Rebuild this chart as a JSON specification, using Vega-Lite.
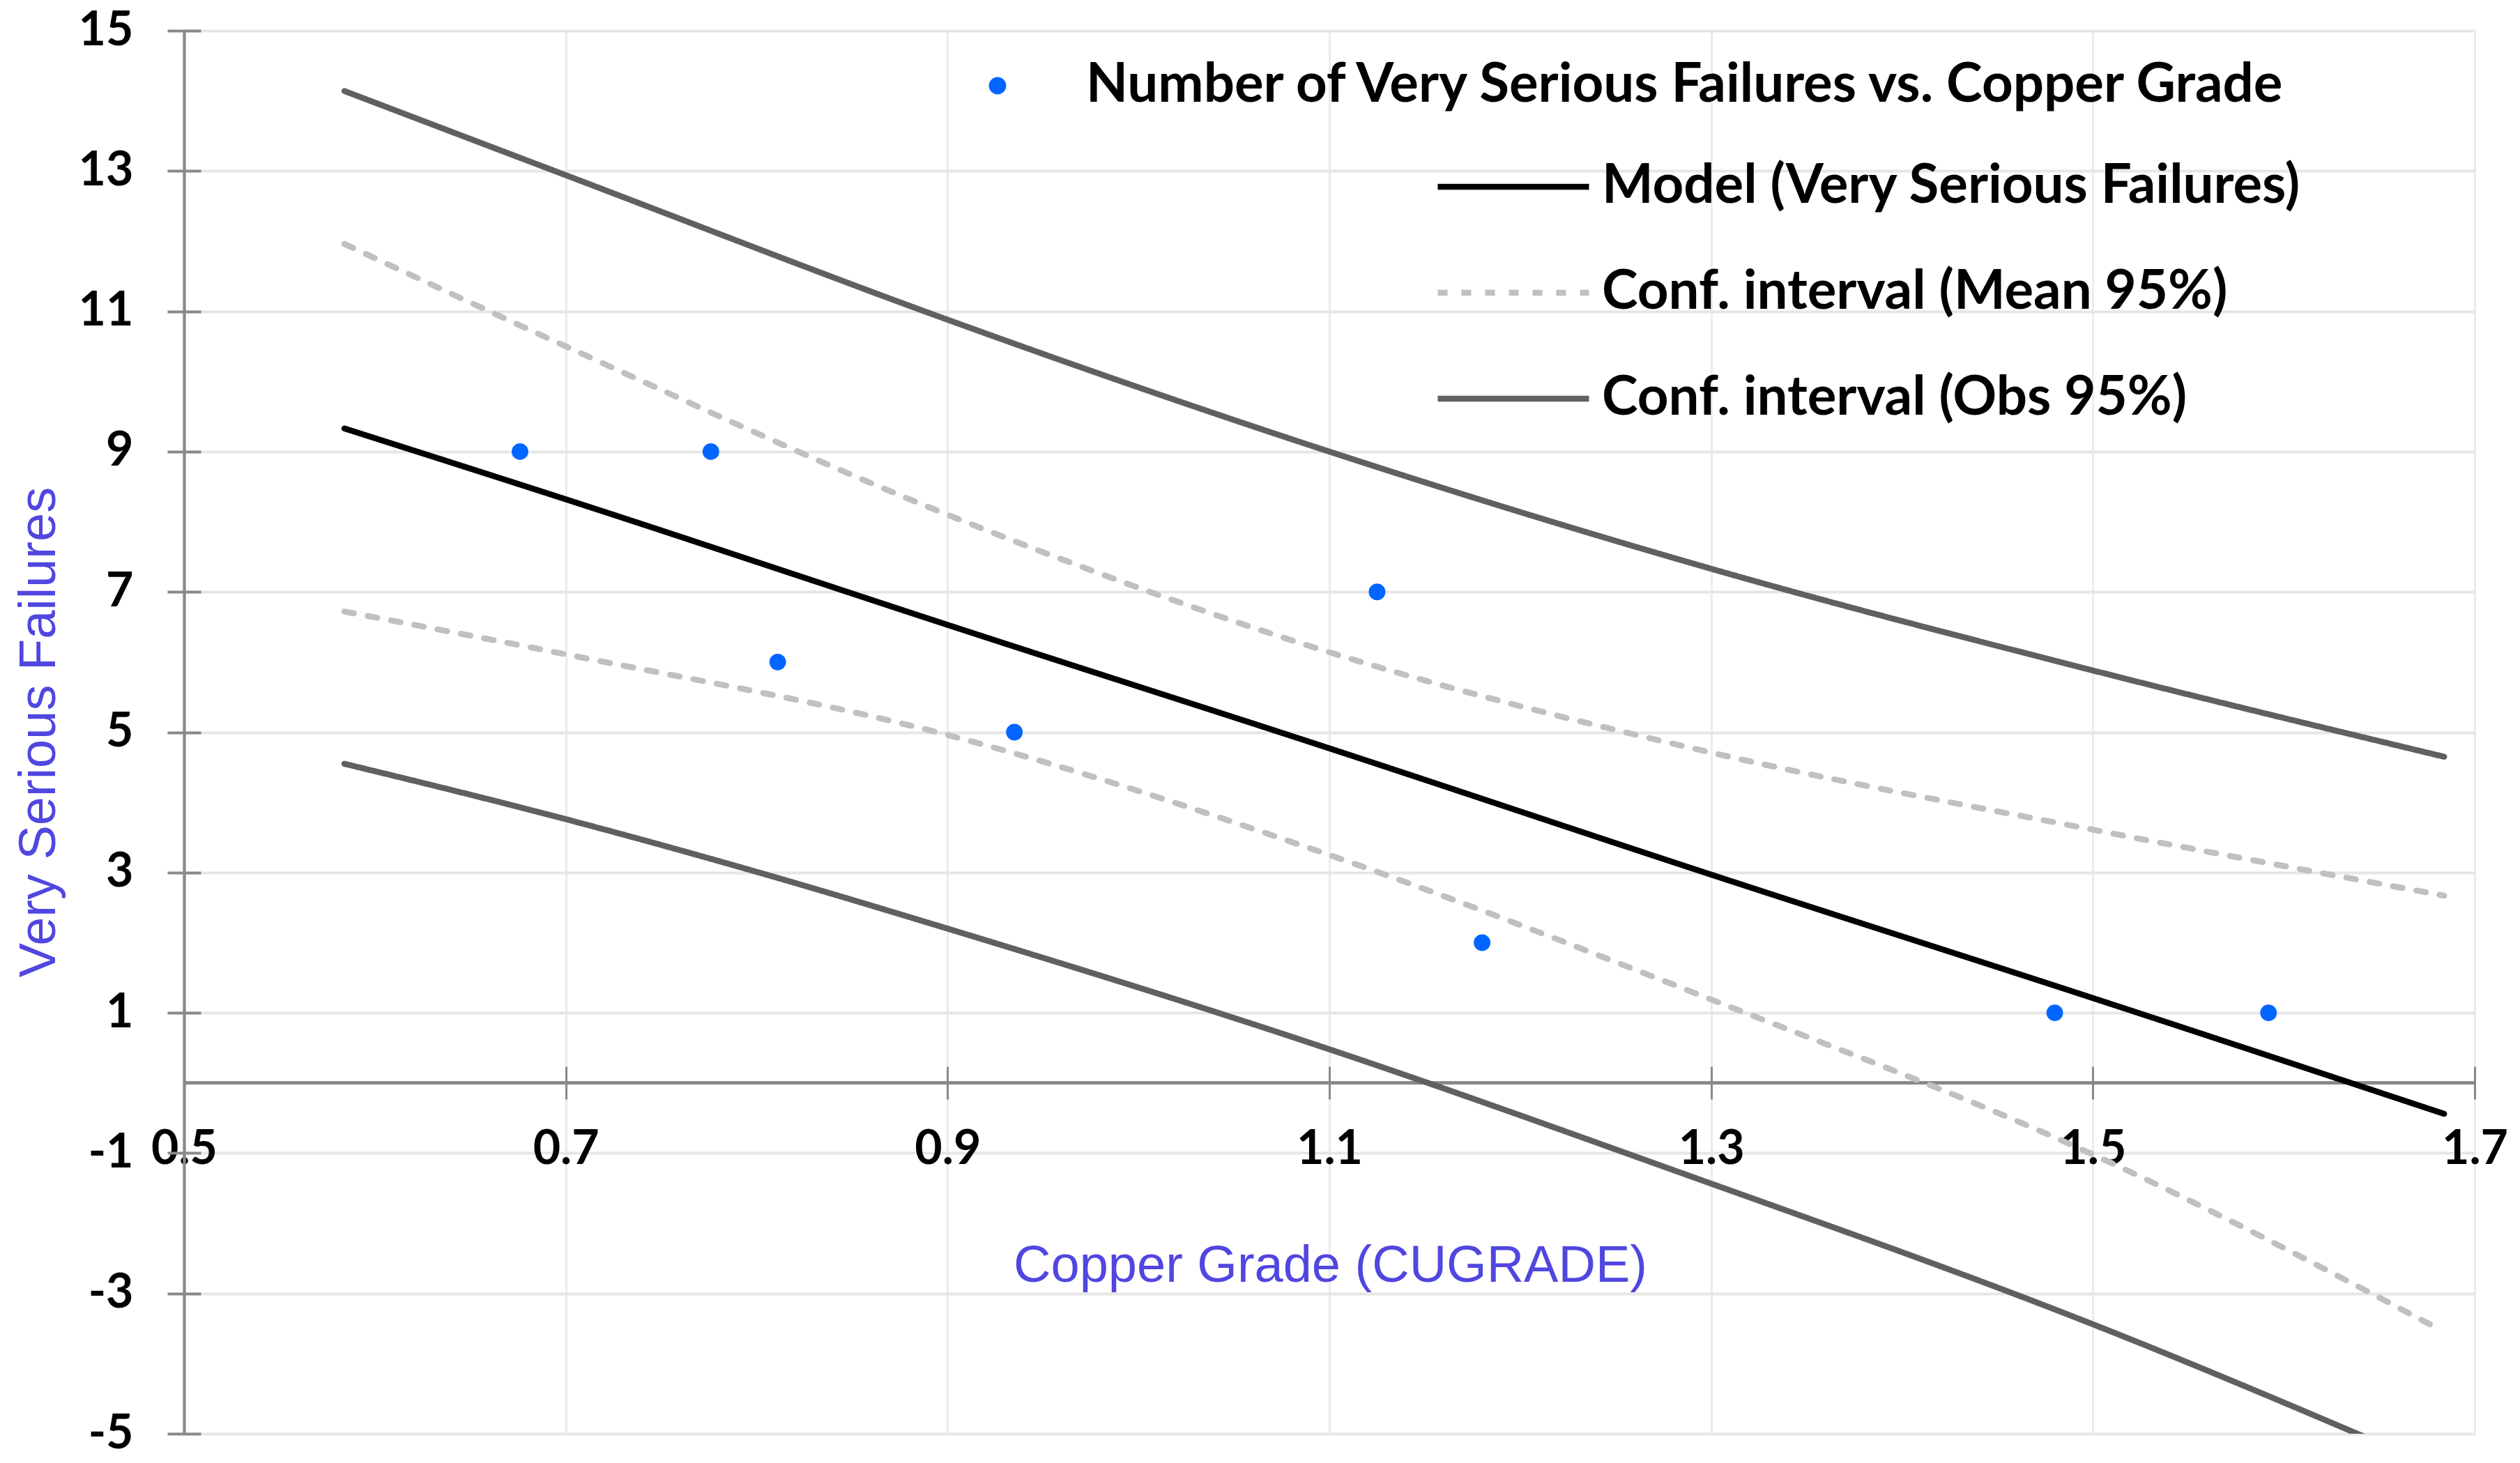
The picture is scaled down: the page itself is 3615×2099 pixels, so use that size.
{
  "$schema": "https://vega.github.io/schema/vega-lite/v6.json",
  "width": 3286,
  "height": 2013,
  "autosize": {"type": "none"},
  "padding": {"left": 264, "top": 44, "right": 65, "bottom": 42},
  "background": "white",
  "config": {"view": {"stroke": null}},
  "datasets": {
    "points": [
      {"label": "Number of Very Serious Failures vs. Copper Grade", "cugrade": 0.676, "failures": 9},
      {"label": "Number of Very Serious Failures vs. Copper Grade", "cugrade": 0.776, "failures": 9},
      {"label": "Number of Very Serious Failures vs. Copper Grade", "cugrade": 0.811, "failures": 6},
      {"label": "Number of Very Serious Failures vs. Copper Grade", "cugrade": 0.935, "failures": 5},
      {"label": "Number of Very Serious Failures vs. Copper Grade", "cugrade": 1.125, "failures": 7},
      {"label": "Number of Very Serious Failures vs. Copper Grade", "cugrade": 1.18, "failures": 2},
      {"label": "Number of Very Serious Failures vs. Copper Grade", "cugrade": 1.48, "failures": 1},
      {"label": "Number of Very Serious Failures vs. Copper Grade", "cugrade": 1.592, "failures": 1}
    ],
    "curves": [
      {"series": "Model (Very Serious Failures)", "bound": "fit", "cugrade": 0.584, "failures": 9.33},
      {"series": "Model (Very Serious Failures)", "bound": "fit", "cugrade": 0.7, "failures": 8.32},
      {"series": "Model (Very Serious Failures)", "bound": "fit", "cugrade": 0.9, "failures": 6.53},
      {"series": "Model (Very Serious Failures)", "bound": "fit", "cugrade": 1.1, "failures": 4.77},
      {"series": "Model (Very Serious Failures)", "bound": "fit", "cugrade": 1.3, "failures": 2.97},
      {"series": "Model (Very Serious Failures)", "bound": "fit", "cugrade": 1.5, "failures": 1.21},
      {"series": "Model (Very Serious Failures)", "bound": "fit", "cugrade": 1.684, "failures": -0.44},

      {"series": "Conf. interval (Mean 95%)", "bound": "upper", "cugrade": 0.584, "failures": 11.96},
      {"series": "Conf. interval (Mean 95%)", "bound": "upper", "cugrade": 0.7, "failures": 10.5},
      {"series": "Conf. interval (Mean 95%)", "bound": "upper", "cugrade": 0.9, "failures": 8.1},
      {"series": "Conf. interval (Mean 95%)", "bound": "upper", "cugrade": 1.1, "failures": 6.14},
      {"series": "Conf. interval (Mean 95%)", "bound": "upper", "cugrade": 1.3, "failures": 4.71},
      {"series": "Conf. interval (Mean 95%)", "bound": "upper", "cugrade": 1.5, "failures": 3.61},
      {"series": "Conf. interval (Mean 95%)", "bound": "upper", "cugrade": 1.684, "failures": 2.67},

      {"series": "Conf. interval (Mean 95%)", "bound": "lower", "cugrade": 0.584, "failures": 6.72},
      {"series": "Conf. interval (Mean 95%)", "bound": "lower", "cugrade": 0.7, "failures": 6.11},
      {"series": "Conf. interval (Mean 95%)", "bound": "lower", "cugrade": 0.9, "failures": 4.96},
      {"series": "Conf. interval (Mean 95%)", "bound": "lower", "cugrade": 1.1, "failures": 3.25},
      {"series": "Conf. interval (Mean 95%)", "bound": "lower", "cugrade": 1.3, "failures": 1.19},
      {"series": "Conf. interval (Mean 95%)", "bound": "lower", "cugrade": 1.5, "failures": -1.02},
      {"series": "Conf. interval (Mean 95%)", "bound": "lower", "cugrade": 1.68, "failures": -3.49},

      {"series": "Conf. interval (Obs 95%)", "bound": "upper", "cugrade": 0.584, "failures": 14.14},
      {"series": "Conf. interval (Obs 95%)", "bound": "upper", "cugrade": 0.7, "failures": 12.94},
      {"series": "Conf. interval (Obs 95%)", "bound": "upper", "cugrade": 0.9, "failures": 10.88},
      {"series": "Conf. interval (Obs 95%)", "bound": "upper", "cugrade": 1.1, "failures": 9.0},
      {"series": "Conf. interval (Obs 95%)", "bound": "upper", "cugrade": 1.3, "failures": 7.33},
      {"series": "Conf. interval (Obs 95%)", "bound": "upper", "cugrade": 1.5, "failures": 5.88},
      {"series": "Conf. interval (Obs 95%)", "bound": "upper", "cugrade": 1.684, "failures": 4.65},

      {"series": "Conf. interval (Obs 95%)", "bound": "lower", "cugrade": 0.584, "failures": 4.55},
      {"series": "Conf. interval (Obs 95%)", "bound": "lower", "cugrade": 0.7, "failures": 3.76},
      {"series": "Conf. interval (Obs 95%)", "bound": "lower", "cugrade": 0.805, "failures": 2.97},
      {"series": "Conf. interval (Obs 95%)", "bound": "lower", "cugrade": 0.9, "failures": 2.2},
      {"series": "Conf. interval (Obs 95%)", "bound": "lower", "cugrade": 1.1, "failures": 0.48},
      {"series": "Conf. interval (Obs 95%)", "bound": "lower", "cugrade": 1.28, "failures": -1.24},
      {"series": "Conf. interval (Obs 95%)", "bound": "lower", "cugrade": 1.5, "failures": -3.44},
      {"series": "Conf. interval (Obs 95%)", "bound": "lower", "cugrade": 1.684, "failures": -5.53}
    ]
  },
  "layer": [
    {
      "data": {"name": "points"},
      "mark": {"type": "rule", "color": "#898989", "strokeWidth": 4},
      "encoding": {
        "y": {"datum": 0, "type": "quantitative", "scale": {"domain": [-5, 15], "nice": false, "zero": false}, "axis": null}
      }
    },
    {
      "data": {"name": "curves"},
      "mark": {"type": "line", "clip": true, "interpolate": "monotone", "strokeCap": "round", "strokeWidth": 8.5},
      "encoding": {
        "x": {
          "field": "cugrade", "type": "quantitative",
          "scale": {"domain": [0.5, 1.7], "nice": false, "zero": false},
          "axis": {
            "orient": "bottom", "values": [0.5, 0.7, 0.9, 1.1, 1.3, 1.5, 1.7],
            "grid": true, "gridColor": "#ebebeb", "gridWidth": 3,
            "domain": false, "ticks": false, "labels": false, "title": null
          }
        },
        "y": {
          "field": "failures", "type": "quantitative",
          "scale": {"domain": [-5, 15], "nice": false, "zero": false},
          "axis": {
            "orient": "left", "values": [-5, -3, -1, 1, 3, 5, 7, 9, 11, 13, 15],
            "grid": true, "gridColor": "#e6e6e6", "gridWidth": 4,
            "domain": true, "domainColor": "#898989", "domainWidth": 4.3,
            "ticks": false, "labels": false, "title": null
          }
        },
        "stroke": {
          "field": "series", "type": "nominal",
          "scale": {
            "domain": ["Model (Very Serious Failures)", "Conf. interval (Mean 95%)", "Conf. interval (Obs 95%)"],
            "range": ["#000000", "#c0c0c0", "#606060"]
          },
          "legend": {
            "orient": "none", "legendX": 1794, "legendY": 111, "direction": "vertical",
            "title": null, "padding": 0, "symbolType": "stroke", "symbolSize": 47089, "symbolStrokeWidth": 8.5,
            "rowPadding": -76, "labelOffset": 14, "labelLimit": 3000,
            "labelFont": "Lato", "labelFontWeight": "bold", "labelFontSize": 78, "labelColor": "#000000"
          }
        },
        "strokeDash": {
          "field": "series", "type": "nominal",
          "scale": {
            "domain": ["Model (Very Serious Failures)", "Conf. interval (Mean 95%)", "Conf. interval (Obs 95%)"],
            "range": [[1, 0], [14, 20], [1, 0]]
          },
          "legend": {
            "orient": "none", "legendX": 1794, "legendY": 111, "direction": "vertical",
            "title": null, "padding": 0, "symbolType": "stroke", "symbolSize": 47089, "symbolStrokeWidth": 8.5,
            "rowPadding": -76, "labelOffset": 14, "labelLimit": 3000,
            "labelFont": "Lato", "labelFontWeight": "bold", "labelFontSize": 78, "labelColor": "#000000"
          }
        },
        "detail": {"field": "bound", "type": "nominal"}
      }
    },
    {
      "data": {"name": "points"},
      "mark": {"type": "point", "filled": true, "size": 570, "opacity": 1, "color": "#0066ff"},
      "encoding": {
        "x": {
          "field": "cugrade", "type": "quantitative",
          "scale": {"domain": [0.5, 1.7], "nice": false, "zero": false},
          "axis": {
            "orient": "bottom", "offset": -527, "values": [0.5, 0.7, 0.9, 1.1, 1.3, 1.5, 1.7],
            "labelExpr": "format(datum.value, '.1f')",
            "grid": false, "domain": false,
            "ticks": true, "tickSize": 47, "tickWidth": 3, "tickColor": "#898989",
            "labelFont": "Lato", "labelFontWeight": "bold", "labelFontSize": 68, "labelColor": "#000000",
            "labelPadding": 38, "labelOverlap": false, "labelFlush": false,
            "title": "Copper Grade (CUGRADE)", "titleFont": "Liberation Sans", "titleFontWeight": "normal",
            "titleFontSize": 74, "titleColor": "#5046e0", "titleX": 1644, "titleY": 308,
            "titleBaseline": "alphabetic", "titleAlign": "center"
          }
        },
        "y": {
          "field": "failures", "type": "quantitative",
          "scale": {"domain": [-5, 15], "nice": false, "zero": false},
          "axis": {
            "orient": "left", "offset": -24, "values": [-5, -3, -1, 1, 3, 5, 7, 9, 11, 13, 15],
            "labelExpr": "'' + datum.value",
            "grid": false, "domain": false,
            "ticks": true, "tickSize": 48, "tickWidth": 4, "tickColor": "#898989",
            "labelFont": "Lato", "labelFontWeight": "bold", "labelFontSize": 68, "labelColor": "#000000",
            "labelPadding": 49, "labelOverlap": false, "labelFlush": false,
            "title": "Very Serious Failures", "titleFont": "Liberation Sans", "titleFontWeight": "normal",
            "titleFontSize": 74, "titleColor": "#5046e0", "titleX": -210, "titleY": 1006,
            "titleAngle": -90, "titleBaseline": "alphabetic", "titleAlign": "center"
          }
        },
        "shape": {
          "field": "label", "type": "nominal",
          "scale": {"range": ["circle"]},
          "legend": {
            "orient": "none", "legendX": 1128, "legendY": 40, "title": null, "padding": 0,
            "symbolSize": 616, "symbolFillColor": "#0000ff", "symbolStrokeWidth": 0,
            "labelOffset": 88, "labelLimit": 3000,
            "labelFont": "Lato", "labelFontWeight": "bold", "labelFontSize": 78, "labelColor": "#000000"
          }
        }
      }
    }
  ],
  "resolve": {"axis": {"x": "independent", "y": "independent"}}
}
